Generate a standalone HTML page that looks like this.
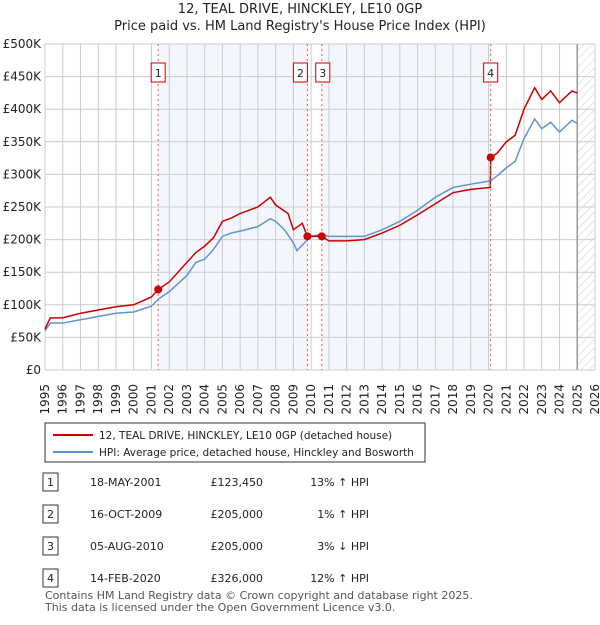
<!DOCTYPE html>
<html><head><meta charset="utf-8"><style>
body{margin:0;background:#fff;font-family:"Liberation Sans","DejaVu Sans",sans-serif;}
svg text{font-family:"DejaVu Sans","Liberation Sans",sans-serif;}
</style></head><body>
<svg width="600" height="620" viewBox="0 0 600 620">
<defs><pattern id="hatch" width="6" height="6" patternUnits="userSpaceOnUse" patternTransform="rotate(45)"><line x1="0" y1="0" x2="0" y2="6" stroke="#ccc" stroke-width="1"/></pattern></defs>
<text x="300" y="13" text-anchor="middle" font-size="13" fill="#222">12, TEAL DRIVE, HINCKLEY, LE10 0GP</text>
<text x="300" y="30" text-anchor="middle" font-size="13" fill="#222">Price paid vs. HM Land Registry's House Price Index (HPI)</text>
<g id="plot"></g>
<rect x="45" y="423" width="380" height="39" fill="#fff" stroke="#333"/>
<line x1="53" y1="435" x2="93" y2="435" stroke="#cc0000" stroke-width="2"/>
<text x="99" y="439" font-size="10.5" fill="#222">12, TEAL DRIVE, HINCKLEY, LE10 0GP (detached house)</text>
<line x1="53" y1="452" x2="93" y2="452" stroke="#5f93d4" stroke-width="2"/>
<text x="99" y="456" font-size="10.5" fill="#222">HPI: Average price, detached house, Hinckley and Bosworth</text>
<g id="table" font-size="11" fill="#222"></g>
<text x="45" y="599" font-size="11" fill="#555">Contains HM Land Registry data © Crown copyright and database right 2025.</text>
<text x="45" y="611" font-size="11" fill="#555">This data is licensed under the Open Government Licence v3.0.</text>
</svg>
<script>
const hpiYears=[1995,1995.3,1996,1997,1998,1999,2000,2001,2001.4,2002,2003,2003.5,2004,2004.5,2005,2005.5,2006,2007,2007.7,2008,2008.5,2009,2009.2,2009.8,2010,2010.6,2011,2012,2013,2014,2015,2016,2017,2018,2019,2020.1,2020.5,2021,2021.5,2022,2022.6,2023,2023.5,2024,2024.7,2025];
const hpiValues=[60,72,72,77,82,87,89,98,109,120,145,165,170,185,205,210,213,220,232,228,215,195,183,200,205,208,205,205,205,215,228,245,265,280,285,290,298,310,320,355,385,370,380,365,383,378];
const redYears=[1995,1995.3,1996,1997,1998,1999,2000,2001,2001.38,2002,2003,2003.5,2004,2004.5,2005,2005.5,2006,2007,2007.7,2008,2008.7,2009,2009.5,2009.79,2010.6,2011,2012,2013,2014,2015,2016,2017,2018,2019,2020.1,2020.12,2020.5,2021,2021.5,2022,2022.6,2023,2023.5,2024,2024.7,2025];
const redValues=[63,80,80,87,92,97,100,112,123.45,135,165,180,190,203,228,233,240,250,265,253,240,215,225,205,205,198,198,200,210,222,238,255,272,277,280,326,333,350,360,400,433,415,428,410,428,425];
const saleLabels=["1","2","3","4"];
const saleYears=[2001.38,2009.79,2010.6,2020.12];
const saleValues=[123.45,205,205,326];
const saleDates=["18-MAY-2001","16-OCT-2009","05-AUG-2010","14-FEB-2020"];
const salePrices=["£123,450","£205,000","£205,000","£326,000"];
const saleDiffs=["13% ↑ HPI","1% ↑ HPI","3% ↓ HPI","12% ↑ HPI"];
const yTicks=[0,50,100,150,200,250,300,350,400,450,500];
const yTickLabels=["£0","£50K","£100K","£150K","£200K","£250K","£300K","£350K","£400K","£450K","£500K"];
const NS="http://www.w3.org/2000/svg";
const X0=45,X1=595,Y0=370,Y1=44;
const x=y=>X0+(y-1995)/31*(X1-X0);
const yv=v=>Y0-v/500*(Y0-Y1);
const g=document.getElementById('plot');
function mk(t,a,p){const e=document.createElementNS(NS,t);for(const k in a)e.setAttribute(k,a[k]);(p||g).appendChild(e);return e;}
let e;
e=mk('rect',{x:x(saleYears[0]),y:Y1,width:x(saleYears[1])-x(saleYears[0]),height:Y0-Y1,fill:'#f3f6fd'});


e=mk('rect',{x:x(saleYears[2]),y:Y1,width:x(saleYears[3])-x(saleYears[2]),height:Y0-Y1,fill:'#f3f6fd'});


e=mk('rect',{x:x(2025),y:Y1,width:X1-x(2025),height:Y0-Y1,fill:'url(#hatch)'});


yTicks.forEach((t,i)=>{
 e=mk('line',{x1:X0,x2:X1,y1:yv(t),y2:yv(t),stroke:'#ccc'});
 
 
 e=mk('text',{x:X0-4,y:yv(t)+4,'text-anchor':'end','font-size':12,fill:'#222'});e.textContent=yTickLabels[i];
 
 
});
for(let yr=1995;yr<=2026;yr++){
 e=mk('line',{x1:x(yr),x2:x(yr),y1:Y1,y2:Y0,stroke:'#ccc'});
 
 
 e=mk('text',{x:x(yr),y:384,'text-anchor':'end','font-size':12,fill:'#222',transform:`rotate(-90 ${x(yr)} 384)`,dy:4});e.textContent=yr;
 
 
}
e=mk('line',{x1:x(2025),x2:x(2025),y1:Y1,y2:Y0,stroke:'#999',"stroke-width":1.5});


e=mk('polyline',{points:hpiYears.map((a,i)=>x(a)+','+yv(hpiValues[i])).join(' '),fill:'none',stroke:'#5f93d4','stroke-width':1.5});


e=mk('polyline',{points:redYears.map((a,i)=>x(a)+','+yv(redValues[i])).join(' '),fill:'none',stroke:'#cc0000','stroke-width':1.5});


const tb=document.getElementById('table');
saleYears.forEach((s,i)=>{
 e=mk('line',{x1:x(s),x2:x(s),y1:Y1,y2:Y0,stroke:'#e55','stroke-dasharray':'2,3'});
 
 
 e=mk('circle',{cx:x(s),cy:yv(saleValues[i]),r:4,fill:'#cc0000'});
 
 
 const bx=i==1?x(s)-14:(i==2?x(s)-6:x(s)-7);
 e=mk('rect',{x:bx,y:63,width:14,height:19,fill:'#fff',stroke:'#cc0000'});
 
 
 e=mk('text',{x:bx+7,y:77,'text-anchor':'middle','font-size':11,fill:'#222'});e.textContent=saleLabels[i];
 
 
 const ry=482+i*32;
 e=mk('rect',{x:43,y:ry-9,width:15,height:18,fill:'#fff',stroke:'#333'},tb);
 
 
 e=mk('text',{x:50.5,y:ry+4,'text-anchor':'middle'},tb);e.textContent=saleLabels[i];
 
 
 e=mk('text',{x:90,y:ry+4},tb);e.textContent=saleDates[i];
 
 
 e=mk('text',{x:263,y:ry+4,'text-anchor':'end'},tb);e.textContent=salePrices[i];
 
 
 e=mk('text',{x:369,y:ry+4,'text-anchor':'end'},tb);e.textContent=saleDiffs[i];
 
 
});
</script>
</body></html>
